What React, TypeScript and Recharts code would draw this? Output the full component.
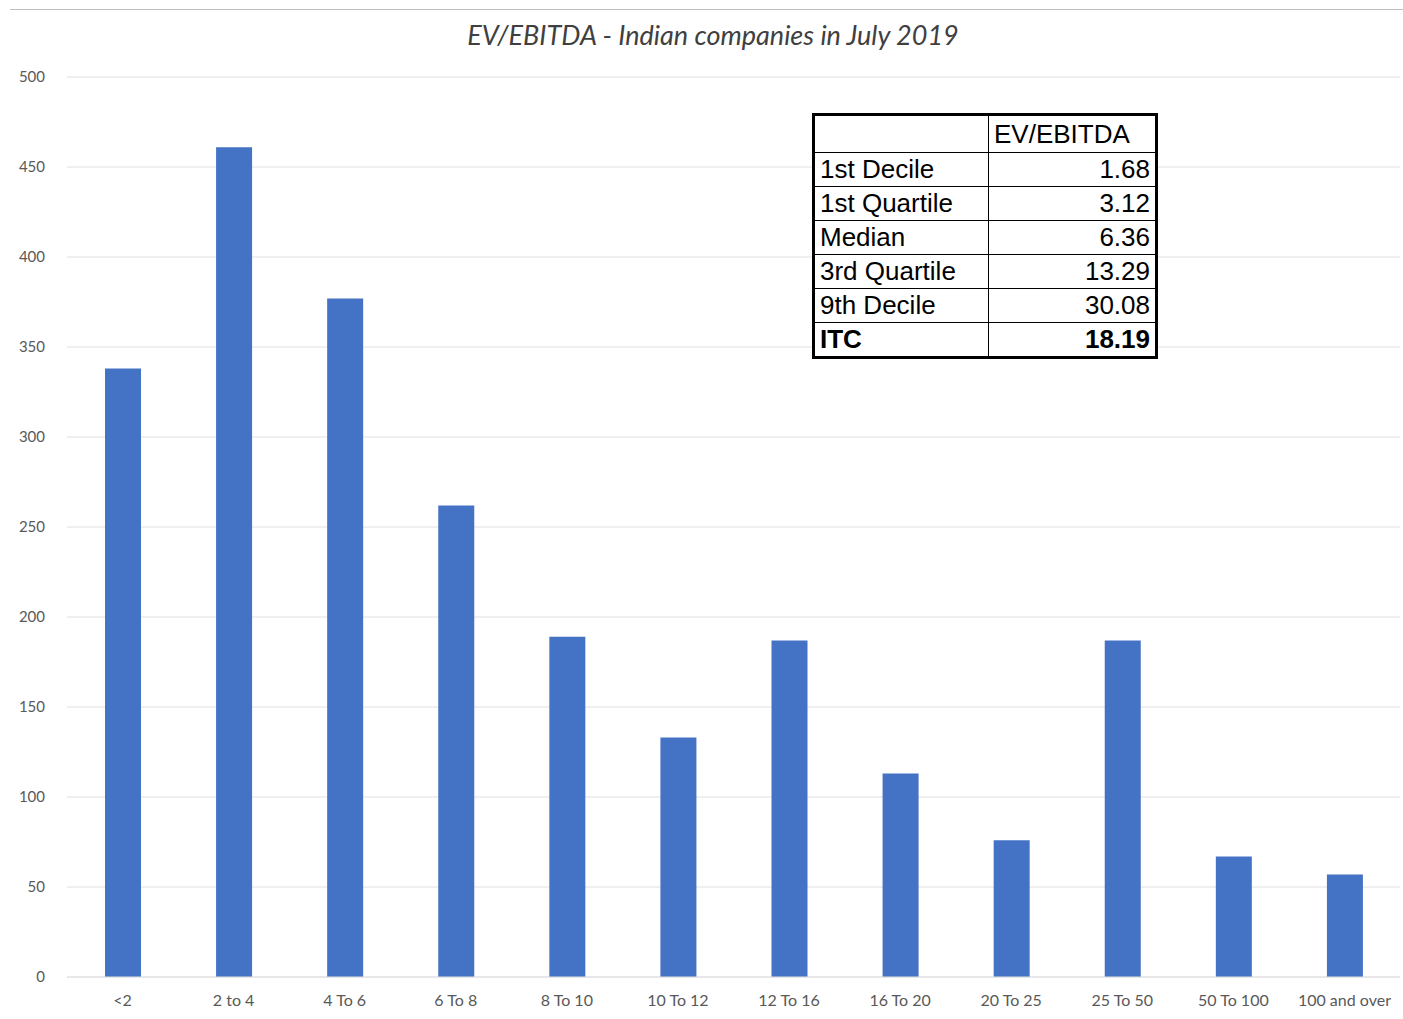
import React from "react";
import { BarChart, Bar, XAxis, YAxis, CartesianGrid } from "recharts";

const buckets = ["<2", "2 to 4", "4 To 6", "6 To 8", "8 To 10", "10 To 12", "12 To 16", "16 To 20", "20 To 25", "25 To 50", "50 To 100", "100 and over"];
const counts = [338, 461, 377, 262, 189, 133, 187, 113, 76, 187, 67, 57];
const yTicks = [0, 50, 100, 150, 200, 250, 300, 350, 400, 450, 500];

const statLabels = ["1st Decile", "1st Quartile", "Median", "3rd Quartile", "9th Decile", "ITC"];
const statValues = ["1.68", "3.12", "6.36", "13.29", "30.08", "18.19"];

const data = buckets.map((b, i) => ({ bucket: b, count: counts[i] }));

const cell: React.CSSProperties = {
  border: "1.5px solid #000",
  padding: "0 5px",
  height: 33,
  lineHeight: "31px",
};

export default function App() {
  return (
    <div style={{ position: "absolute", left: 0, top: 0, width: 1403, height: 1019, background: "#fff", fontFamily: "Lato, 'Open Sans', sans-serif" }}>
      <div style={{ position: "absolute", left: 10, top: 9, width: 1393, height: 1, background: "#bfbfbf" }} />
      <div style={{ position: "absolute", left: 0, top: 18, width: 1426, textAlign: "center", fontSize: 27, fontStyle: "italic", color: "#404040" }}>
        EV/EBITDA - Indian companies in July 2019
      </div>
      <BarChart width={1403} height={1019} data={data} margin={{ top: 77, right: 3, bottom: 12, left: 0 }}>
        <CartesianGrid vertical={false} stroke="#e0e0e0" />
        <XAxis
          dataKey="bucket"
          height={30}
          axisLine={{ stroke: "#e0e0e0" }}
          tickLine={false}
          tick={{ fill: "#595959", fontSize: 16 }}
          tickMargin={12}
          interval={0}
        />
        <YAxis
          width={67}
          domain={[0, 500]}
          ticks={yTicks}
          axisLine={false}
          tickLine={false}
          tick={{ fill: "#595959", fontSize: 15 }}
          tickMargin={16}
        />
        <Bar dataKey="count" fill="#4472C4" barSize={36} isAnimationActive={false} />
      </BarChart>
      <table
        style={{
          position: "absolute",
          left: 812,
          top: 113,
          width: 346,
          borderCollapse: "collapse",
          border: "3px solid #000",
          fontFamily: "Arial, 'Liberation Sans', sans-serif",
          fontSize: 26,
          color: "#000",
          background: "#fff",
        }}
      >
        <tbody>
          <tr>
            <td style={{ ...cell, width: 163, height: 36 }}></td>
            <td style={{ ...cell, textAlign: "left", height: 36 }}>EV/EBITDA</td>
          </tr>
          {statLabels.map((s, i) => (
            <tr key={s}>
              <td style={{ ...cell, fontWeight: s === "ITC" ? 700 : 400 }}>{s}</td>
              <td style={{ ...cell, textAlign: "right", fontWeight: s === "ITC" ? 700 : 400 }}>{statValues[i]}</td>
            </tr>
          ))}
        </tbody>
      </table>
    </div>
  );
}
